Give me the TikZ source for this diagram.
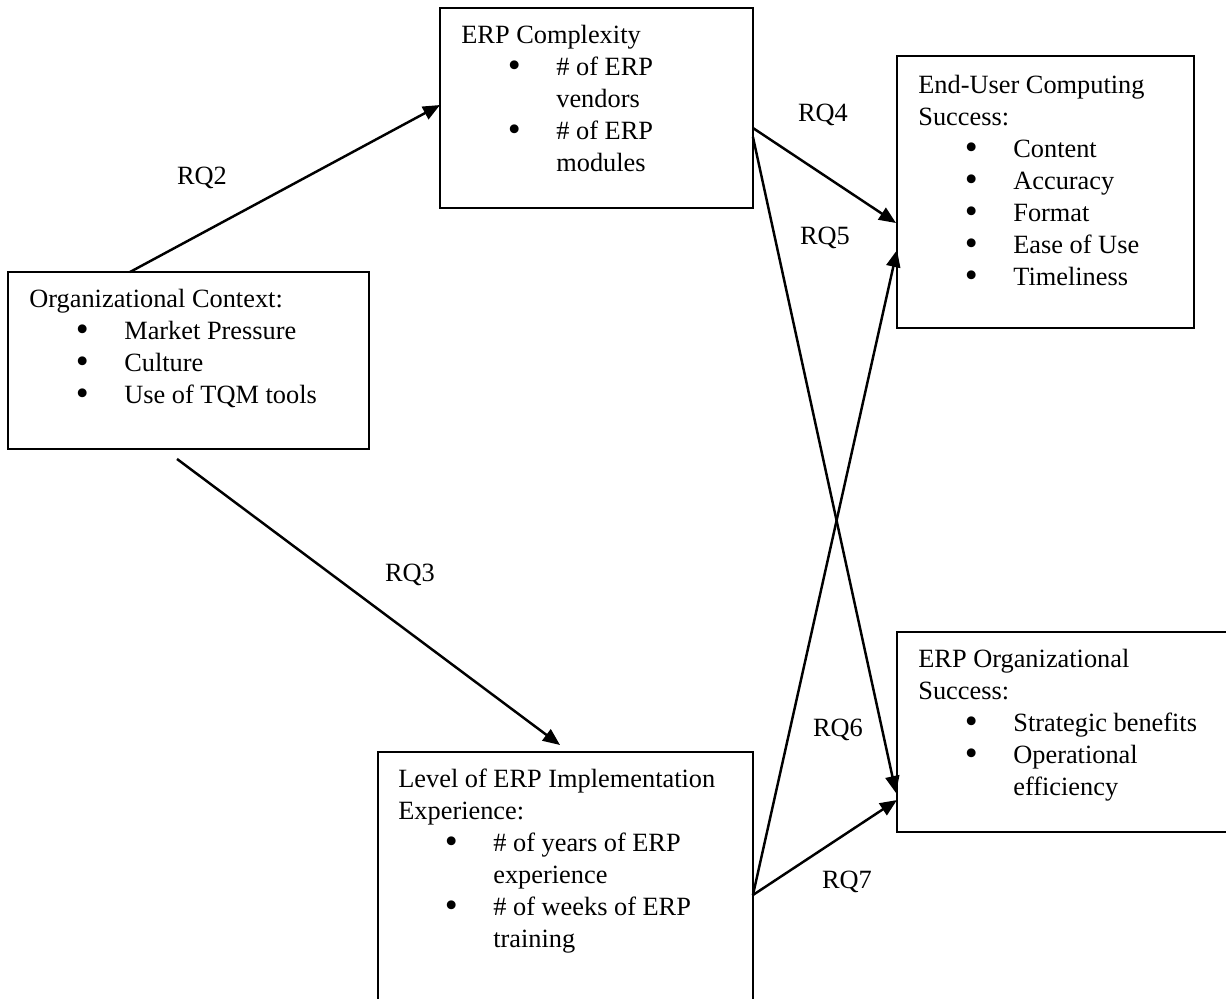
\documentclass[tikz,border=0pt]{standalone}
\usepackage{fontspec}
\usepackage{graphicx}
\setmainfont{Liberation Serif}
\usetikzlibrary{arrows.meta}
\newcommand{\bitem}[1]{\hspace*{0.93cm}\makebox[0.97cm][l]{\raisebox{-0.08em}{\scalebox{1.4}{\textbullet}}}#1}
\newcommand{\bcont}[1]{\hspace*{1.9cm}#1}
\tikzset{
  modelbox/.style={draw,line width=1.2pt,inner sep=0pt,outer sep=0pt,anchor=north west},
  boxtext/.style={anchor=north west,inner sep=0pt,align=left,font=\fontsize{15}{18.2}\selectfont},
  rqlabel/.style={font=\fontsize{15}{18}\selectfont},
  rqarrow/.style={line width=1.4pt,-{Triangle[length=0.34cm,width=0.28cm]}}
}

\begin{document}
\begin{tikzpicture}[x=0.02cm,y=-0.02cm]
    \useasboundingbox (0,0) rectangle (1226,998);
    % boxes
    \node[modelbox,minimum width=6.26cm,minimum height=4cm] (erpcplx) at (440,8) {};
    \node[modelbox,minimum width=5.94cm,minimum height=5.44cm] (eucs) at (897,56) {};
    \node[modelbox,minimum width=7.22cm,minimum height=3.54cm] (orgctx) at (8,272) {};
    \node[modelbox,minimum width=6.86cm,minimum height=4cm] (erporg) at (897,632) {};
    \node[modelbox,minimum width=7.5cm,minimum height=5.2cm] (implexp) at (378,752) {};
    % box texts
    \node[boxtext] (erpcplxtxt) at ([shift={(21,17)}]erpcplx.north west)
      {ERP Complexity\\ \bitem{\# of ERP}\\ \bcont{vendors}\\ \bitem{\# of ERP}\\ \bcont{modules}};
    \node[boxtext] (eucstxt) at ([shift={(21,19)}]eucs.north west)
      {End-User Computing\\ Success:\\ \bitem{Content}\\ \bitem{Accuracy}\\ \bitem{Format}\\
       \bitem{Ease of Use}\\ \bitem{Timeliness}};
    \node[boxtext] (orgctxtxt) at ([shift={(21,17)}]orgctx.north west)
      {Organizational Context:\\ \bitem{Market Pressure}\\ \bitem{Culture}\\ \bitem{Use of TQM tools}};
    \node[boxtext] (erporgtxt) at ([shift={(21,17)}]erporg.north west)
      {ERP Organizational\\ Success:\\ \bitem{Strategic benefits}\\ \bitem{Operational}\\ \bcont{efficiency}};
    \node[boxtext] (implexptxt) at ([shift={(20,17)}]implexp.north west)
      {Level of ERP Implementation\\ Experience:\\ \bitem{\# of years of ERP}\\ \bcont{experience}\\
       \bitem{\# of weeks of ERP}\\ \bcont{training}};
    % research questions
    \draw[rqarrow] ([shift={(122,0)}]orgctx.north west) -- ([shift={(0,97)}]erpcplx.north west);
    \draw[rqarrow] ([shift={(169,10)}]orgctx.south west) -- ([shift={(182,-7)}]implexp.north west);
    \draw[rqarrow] ([shift={(0,120)}]erpcplx.north east) -- ([shift={(-1,167)}]eucs.north west);
    \draw[rqarrow] ([shift={(0,129)}]erpcplx.north east) -- ([shift={(-1,161)}]erporg.north west);
    \draw[rqarrow] ([shift={(0,143)}]implexp.north east) -- ([shift={(0,194)}]eucs.north west);
    \draw[rqarrow] ([shift={(0,143)}]implexp.north east) -- ([shift={(0,168)}]erporg.north west);
    \node[rqlabel] (rq2) at (202,178) {RQ2};
    \node[rqlabel] (rq3) at (410,575) {RQ3};
    \node[rqlabel] (rq4) at (823,115) {RQ4};
    \node[rqlabel] (rq5) at (825,238) {RQ5};
    \node[rqlabel] (rq6) at (838,730) {RQ6};
    \node[rqlabel] (rq7) at (847,882) {RQ7};
\end{tikzpicture}
\end{document}
